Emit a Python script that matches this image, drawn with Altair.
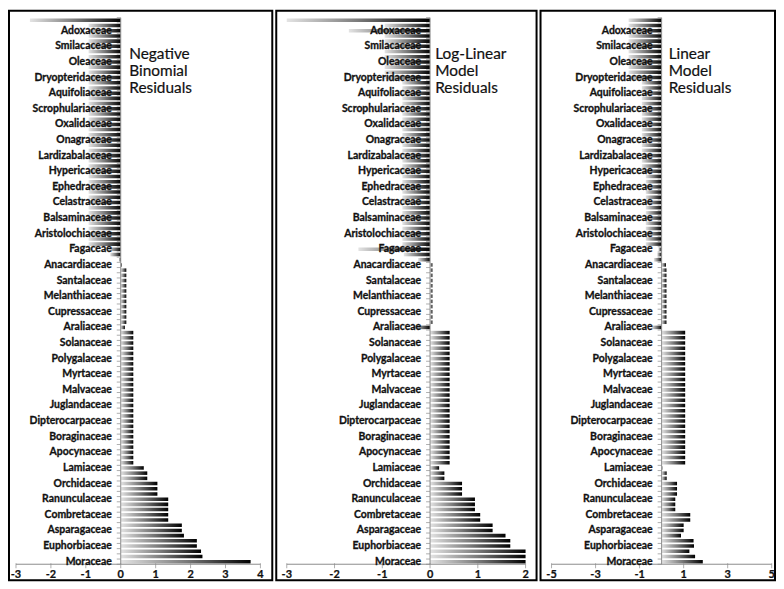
import altair as alt
import pandas as pd

# Family labels shown on the category axis (every third category, bottom to top)
families = [
    "Moraceae", "Euphorbiaceae", "Asparagaceae", "Combretaceae", "Ranunculaceae",
    "Orchidaceae", "Lamiaceae", "Apocynaceae", "Boraginaceae", "Dipterocarpaceae",
    "Juglandaceae", "Malvaceae", "Myrtaceae", "Polygalaceae", "Solanaceae",
    "Araliaceae", "Cupressaceae", "Melanthiaceae", "Santalaceae", "Anacardiaceae",
    "Fagaceae", "Aristolochiaceae", "Balsaminaceae", "Celastraceae", "Ephedraceae",
    "Hypericaceae", "Lardizabalaceae", "Onagraceae", "Oxalidaceae", "Scrophulariaceae",
    "Aquifoliaceae", "Dryopteridaceae", "Oleaceae", "Smilacaceae", "Adoxaceae",
]

# Residuals, category 0 (Moraceae, bottom) to category 104 (top)
nb_resid = [
    3.72, 2.34, 2.30, 2.18, 2.18, 1.81, 1.75, 1.75, 1.36, 1.36,
    1.36, 1.36, 1.36, 1.05, 1.05, 1.05, 0.76, 0.76, 0.66, 0.36,
    0.36, 0.36, 0.36, 0.36, 0.36, 0.36, 0.36, 0.36, 0.36, 0.36,
    0.36, 0.36, 0.36, 0.36, 0.36, 0.36, 0.36, 0.36, 0.36, 0.36,
    0.36, 0.36, 0.36, 0.36, 0.36, 0.12, 0.16, 0.16, 0.16, 0.16,
    0.16, 0.16, 0.16, 0.16, 0.16, 0.16, 0.16, 0.03, -0.05, -0.30,
    -0.35, -0.92, -0.92, -0.92, -0.92, -0.92, -0.92, -0.92, -0.92, -0.92,
    -0.92, -0.92, -0.92, -0.92, -0.92, -0.92, -0.92, -0.92, -0.92, -0.92,
    -0.92, -0.92, -0.92, -0.92, -0.92, -0.92, -0.92, -0.92, -0.92, -0.92,
    -0.92, -0.92, -0.92, -0.92, -0.92, -0.92, -0.92, -0.92, -0.92, -0.92,
    -0.92, -0.92, -0.92, -0.92, -2.60,
]

ll_resid = [
    2.00, 2.00, 2.00, 1.68, 1.68, 1.58, 1.31, 1.31, 1.05, 1.05,
    0.94, 0.94, 0.94, 0.67, 0.67, 0.67, 0.30, 0.30, 0.19, 0.41,
    0.41, 0.41, 0.41, 0.41, 0.41, 0.41, 0.41, 0.41, 0.41, 0.41,
    0.41, 0.41, 0.41, 0.41, 0.41, 0.41, 0.41, 0.41, 0.41, 0.41,
    0.41, 0.41, 0.41, 0.41, 0.41, -0.35, 0.05, 0.05, 0.05, 0.05,
    0.05, 0.05, 0.05, 0.05, 0.05, 0.05, 0.05, 0.05, -0.25, -0.55,
    -1.50, -0.58, -0.58, -0.58, -0.58, -0.58, -0.58, -0.58, -0.58, -0.58,
    -0.58, -0.58, -0.58, -0.58, -0.58, -0.58, -0.58, -0.58, -0.58, -0.58,
    -0.58, -0.58, -0.58, -0.58, -0.58, -0.58, -0.58, -0.58, -0.58, -0.58,
    -0.58, -0.58, -0.58, -0.95, -0.95, -0.95, -0.95, -0.95, -0.95, -0.95,
    -0.95, -0.95, -1.70, -0.95, -3.00,
]

lm_resid = [
    1.87, 1.52, 1.26, 1.47, 1.45, 0.88, 1.00, 1.00, 1.30, 1.30,
    0.62, 0.62, 0.62, 0.70, 0.70, 0.70, 0.23, 0.23, 0.03, 1.07,
    1.07, 1.07, 1.07, 1.07, 1.07, 1.07, 1.07, 1.07, 1.07, 1.07,
    1.07, 1.07, 1.07, 1.07, 1.07, 1.07, 1.07, 1.07, 1.07, 1.07,
    1.07, 1.07, 1.07, 1.07, 1.07, -0.45, 0.22, 0.22, 0.22, 0.22,
    0.22, 0.22, 0.22, 0.22, 0.22, 0.22, 0.22, 0.20, -0.35, -0.20,
    -0.15, -0.72, -0.72, -0.72, -0.72, -0.72, -0.72, -0.72, -0.72, -0.72,
    -0.72, -0.72, -0.72, -0.72, -0.72, -0.90, -0.90, -0.90, -0.90, -0.90,
    -0.90, -0.90, -0.90, -0.90, -0.90, -0.90, -0.90, -0.90, -0.90, -0.90,
    -0.90, -0.90, -0.90, -1.50, -1.50, -1.50, -1.50, -1.50, -1.50, -1.50,
    -1.50, -1.50, -1.50, -1.50, -1.50,
]

nb_ticks = [-3, -2, -1, 0, 1, 2, 3, 4]
ll_ticks = [-3, -2, -1, 0, 1, 2]
lm_ticks = [-5, -3, -1, 1, 3, 5]

nb_title = ["Negative", "Binomial", "Residuals"]
ll_title = ["Log-Linear", "Model", "Residuals"]
lm_title = ["Linear", "Model", "Residuals"]

# ---------------------------------------------------------------- styling
H = 573
YDOM = [-3.554, 105.813]
FONT = "Lato"
AXIS_GREY = "#8c8c8c"
TEXT = "#111111"
TITLE_Y = 96.65
LABEL_EVERY = 3

panels = [
    dict(values=nb_resid, ticks=nb_ticks, title=nb_title, width=265,
         domain=[-3.2, 4.34], title_x=0.244),
    dict(values=ll_resid, ticks=ll_ticks, title=ll_title, width=262,
         domain=[-3.22, 2.23], title_x=0.107),
    dict(values=lm_resid, ticks=lm_ticks, title=lm_title, width=236,
         domain=[-5.5, 5.15], title_x=0.32),
]

grad = alt.Gradient(
    gradient="linear",
    stops=[
        alt.GradientStop(offset=0, color="#e4e4e4"),
        alt.GradientStop(offset=0.5, color="#7a7a7a"),
        alt.GradientStop(offset=1, color="#000000"),
    ],
    x1=0, x2=1, y1=0, y2=0,
)


def make_panel(p):
    n = len(p["values"])
    df = pd.DataFrame({"i": list(range(n)), "v": p["values"]})
    bounds = pd.DataFrame({"b": [k - 0.5 for k in range(n + 1)]})
    cats = pd.DataFrame({"name": families,
                         "pos": [LABEL_EVERY * k for k in range(len(families))]})
    xt = pd.DataFrame({"t": p["ticks"], "lab": [str(t) for t in p["ticks"]]})
    one = pd.DataFrame({"k": [0]})

    xs = alt.Scale(domain=p["domain"], nice=False, zero=False)
    ys = alt.Scale(domain=YDOM, nice=False, zero=False)

    bars = alt.Chart(df).transform_calculate(
        lo="datum.i - 0.34", hi="datum.i + 0.34"
    ).mark_bar(color=grad).encode(
        x=alt.X("v:Q", scale=xs, axis=None),
        x2=alt.X2Datum(0),
        y=alt.Y("lo:Q", scale=ys, axis=None),
        y2="hi:Q",
    )

    vrule = alt.Chart(one).mark_rule(color=AXIS_GREY, strokeWidth=1).encode(
        x=alt.XDatum(0, scale=xs, axis=None),
        y=alt.YDatum(-0.5, scale=ys, axis=None),
        y2=alt.Y2Datum(n - 0.5),
    )
    hrule = alt.Chart(one).mark_rule(color=AXIS_GREY, strokeWidth=1).encode(
        x=alt.XDatum(p["ticks"][0], scale=xs, axis=None),
        x2=alt.X2Datum(p["ticks"][-1]),
        y=alt.YDatum(-0.5, scale=ys, axis=None),
    )
    cat_ticks = alt.Chart(bounds).mark_tick(
        orient="horizontal", size=4, thickness=1, xOffset=-2, color=AXIS_GREY
    ).encode(
        x=alt.XDatum(0, scale=xs, axis=None),
        y=alt.Y("b:Q", scale=ys, axis=None),
    )
    x_ticks = alt.Chart(xt).mark_tick(
        orient="vertical", size=5, thickness=1, yOffset=1.5, color=AXIS_GREY
    ).encode(
        x=alt.X("t:Q", scale=xs, axis=None),
        y=alt.YDatum(-0.5, scale=ys, axis=None),
    )
    x_labels = alt.Chart(xt).mark_text(
        align="center", baseline="middle", dy=10.5, font=FONT,
        fontWeight="bold", fontSize=11, color=TEXT, stroke=TEXT, strokeWidth=0.25
    ).encode(
        x=alt.X("t:Q", scale=xs, axis=None),
        y=alt.YDatum(-0.5, scale=ys, axis=None),
        text="lab:N",
    )
    cat_labels = alt.Chart(cats).mark_text(
        align="right", baseline="middle", dx=-9, font=FONT,
        fontWeight="bold", fontSize=10.5, color=TEXT, stroke=TEXT, strokeWidth=0.3
    ).encode(
        x=alt.XDatum(0, scale=xs, axis=None),
        y=alt.Y("pos:Q", scale=ys, axis=None),
        text="name:N",
    )
    title = alt.Chart(one).mark_text(
        align="left", baseline="alphabetic", font=FONT, fontSize=15.5,
        lineHeight=17.5, color=TEXT, stroke=TEXT, strokeWidth=0.2
    ).encode(
        x=alt.XDatum(p["title_x"], scale=xs, axis=None),
        y=alt.YDatum(TITLE_Y, scale=ys, axis=None),
        text=alt.value(p["title"]),
    )
    return alt.layer(
        bars, vrule, hrule, cat_ticks, x_ticks, x_labels, cat_labels, title
    ).properties(width=p["width"], height=H)


chart = alt.hconcat(*[make_panel(p) for p in panels], spacing=2).properties(
    padding=0
).configure_view(stroke="black", strokeWidth=2)

chart.save("out.html", embed_options={"renderer": "svg", "actions": False})
